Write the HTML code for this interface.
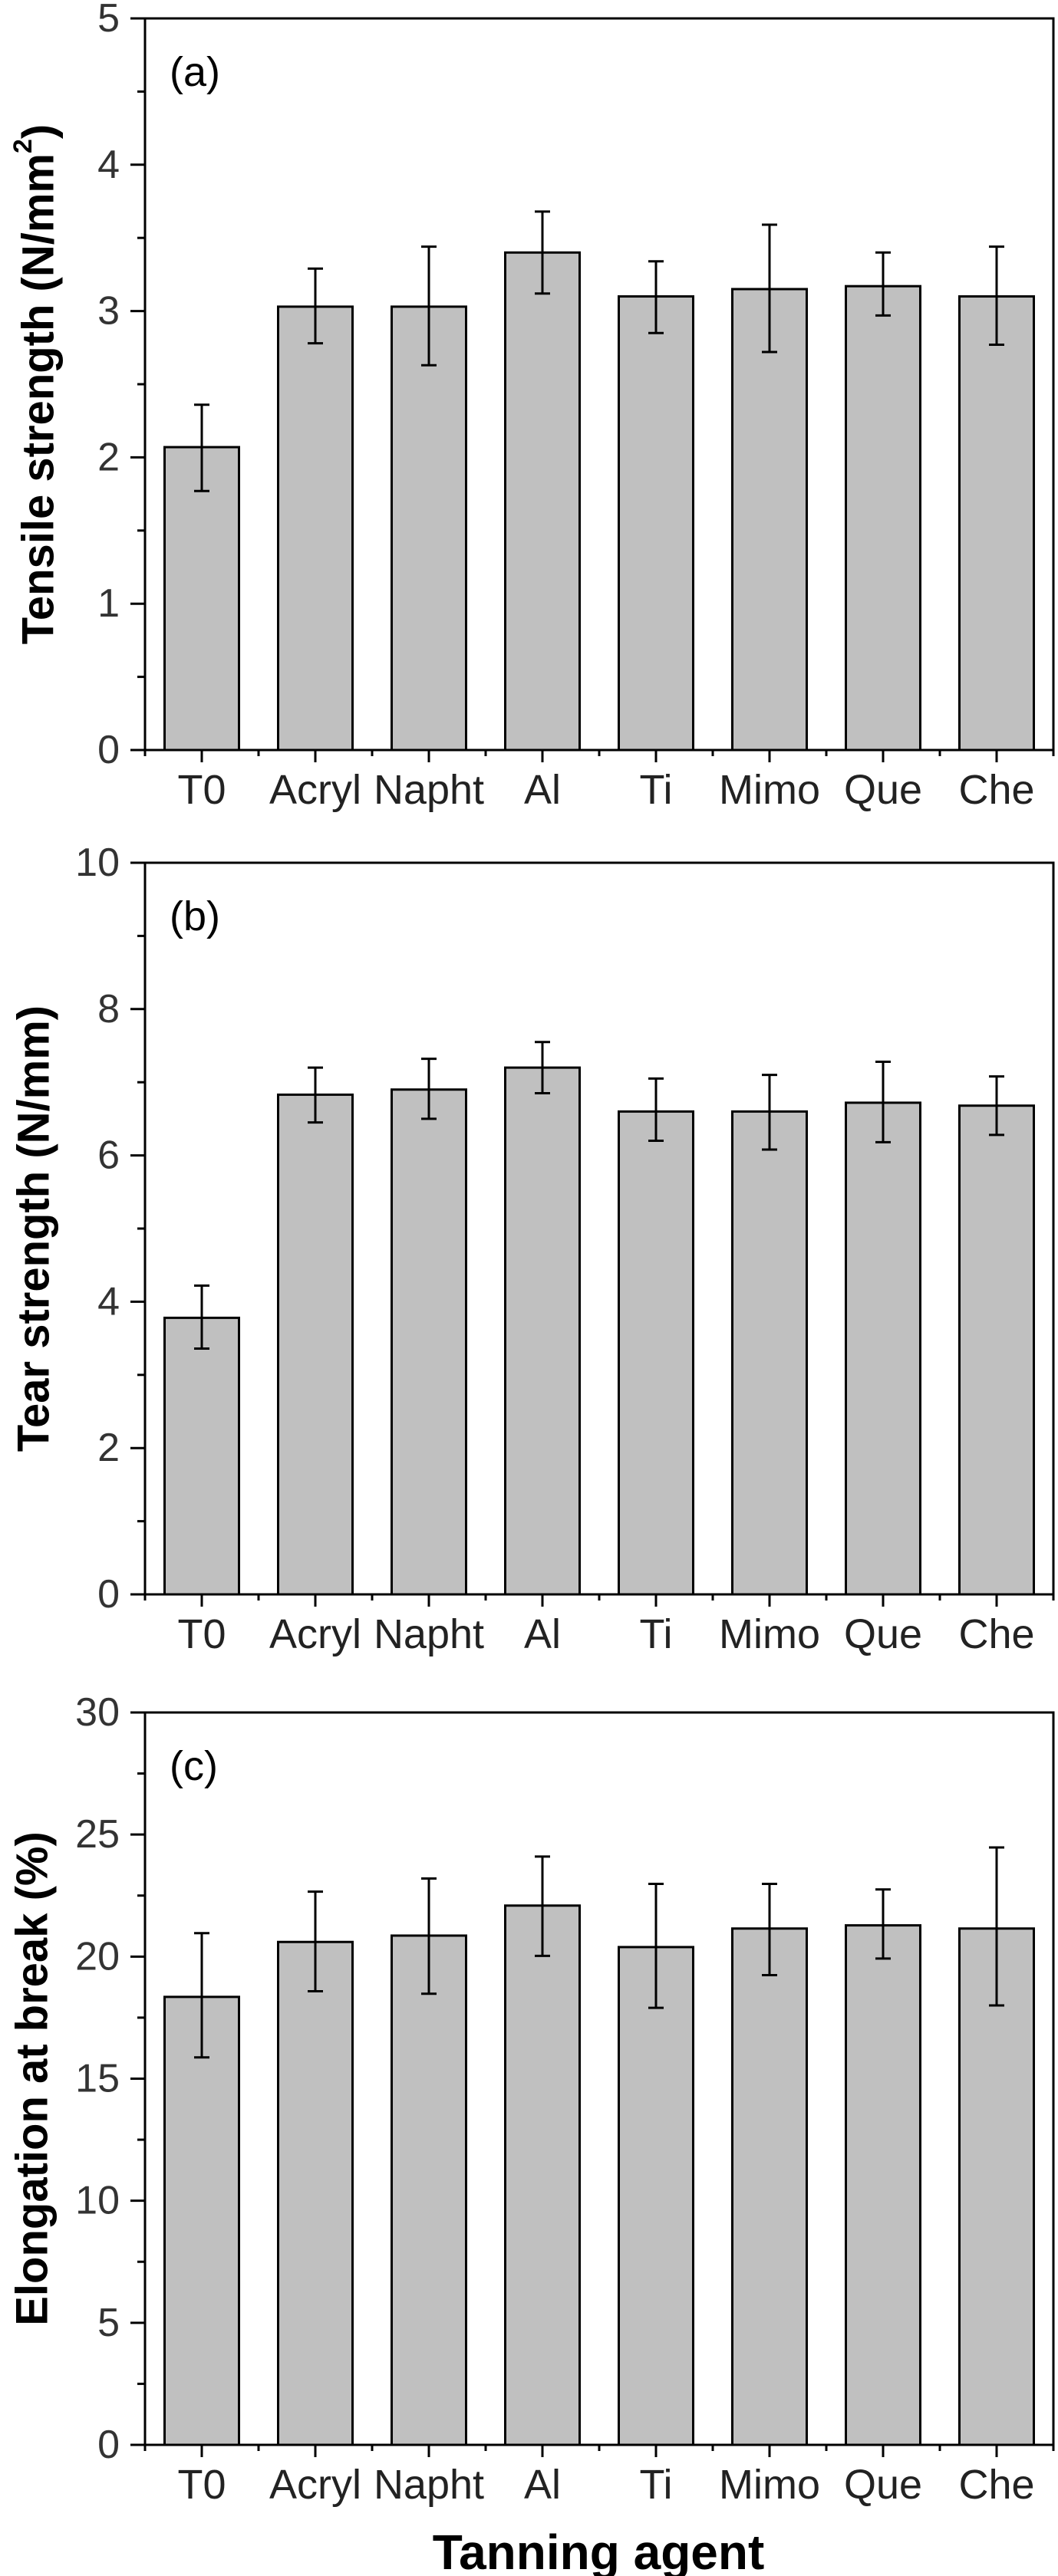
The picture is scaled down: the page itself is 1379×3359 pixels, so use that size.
<!DOCTYPE html>
<html><head><meta charset="utf-8"><style>
html,body{margin:0;padding:0;background:#fff;}
svg{display:block;}
</style></head><body>
<svg id="fig" width="1379" height="3359" viewBox="0 0 1379 3359" xmlns="http://www.w3.org/2000/svg"></svg>
<script>
const categories = ["T0","Acryl","Napht","Al","Ti","Mimo","Que","Che"];
const tensileMean = [2.07,3.03,3.03,3.40,3.10,3.15,3.17,3.10];
const tensileUpper = [2.36,3.29,3.44,3.68,3.34,3.59,3.40,3.44];
const tensileLower = [1.77,2.78,2.63,3.12,2.85,2.72,2.97,2.77];
const tearMean = [3.78,6.83,6.90,7.20,6.60,6.60,6.72,6.68];
const tearUpper = [4.22,7.20,7.32,7.55,7.05,7.10,7.28,7.08];
const tearLower = [3.36,6.45,6.50,6.85,6.20,6.08,6.18,6.28];
const elongMean = [18.35,20.6,20.86,22.09,20.39,21.15,21.28,21.15];
const elongUpper = [20.96,22.66,23.2,24.1,22.98,22.98,22.75,24.47];
const elongLower = [15.87,18.58,18.48,20.03,17.9,19.24,19.92,18.0];
const tensileTicks = [0,1,2,3,4,5];
const tearTicks = [0,2,4,6,8,10];
const elongTicks = [0,5,10,15,20,25,30];

const NS = "http://www.w3.org/2000/svg";
const svg = document.getElementById("fig");
function mk(tag, attrs, parent){
  const e = document.createElementNS(NS, tag);
  for (const k in attrs) e.setAttribute(k, attrs[k]);
  (parent||svg).appendChild(e);
  return e;
}
const X0 = 189, X1 = 1373;
const step = (X1 - X0) / 8;
function xc(i){ return X0 + step*(i+0.5); }

function panel(opts){
  const g = mk("g", {});
  
  
  const top = opts.top, bot = opts.bot, max = opts.max;
  const y = v => bot - (bot - top) * v / max;
  // bars
  opts.mean.forEach((v, i) => {
    const r = mk("rect", {x: xc(i) - 48.5, y: y(v), width: 97, height: bot - y(v), fill: "#c0c0c0", stroke: "#000", "stroke-width": 3}, g);
    
    
  });
  // error bars
  opts.mean.forEach((v, i) => {
    const eg = mk("g", {stroke: "#000", "stroke-width": 3}, g);
    
    
    const yu = y(opts.upper[i]), yl = y(opts.lower[i]);
    mk("line", {x1: xc(i), x2: xc(i), y1: yu, y2: yl}, eg);
    mk("line", {x1: xc(i)-10, x2: xc(i)+10, y1: yu, y2: yu}, eg);
    mk("line", {x1: xc(i)-10, x2: xc(i)+10, y1: yl, y2: yl}, eg);
  });
  // frame
  const fr = mk("rect", {x: X0, y: top, width: X1 - X0, height: bot - top, fill: "none", stroke: "#000", "stroke-width": 3}, g);
  
  
  // y ticks
  const ya = mk("g", {}, g);
  
  
  opts.ticks.forEach((t, k) => {
    mk("line", {x1: X0 - 19, x2: X0, y1: y(t), y2: y(t), stroke: "#000", "stroke-width": 3}, ya);
    const tx = mk("text", {x: opts.labelRight, y: y(t), "text-anchor": "end", "dominant-baseline": "central", "font-family": opts.tickFont, "font-size": 52, fill: "#333"}, ya);
    tx.textContent = t;
    
    
    if (k < opts.ticks.length - 1) {
      const m = (t + opts.ticks[k+1]) / 2;
      mk("line", {x1: X0 - 10, x2: X0, y1: y(m), y2: y(m), stroke: "#000", "stroke-width": 3}, ya);
    }
  });
  // x ticks
  const xa = mk("g", {}, g);
  
  
  for (let i = 0; i <= 8; i++) {
    const xx = X0 + step*i;
    mk("line", {x1: xx, x2: xx, y1: bot, y2: bot + 8, stroke: "#000", "stroke-width": 3}, xa);
  }
  categories.forEach((c, i) => {
    mk("line", {x1: xc(i), x2: xc(i), y1: bot, y2: bot + 16, stroke: "#000", "stroke-width": 3}, xa);
    const tx = mk("text", {x: xc(i), y: bot + 70, "text-anchor": "middle", "font-family": opts.tickFont, "font-size": 54, fill: "#222"}, xa);
    tx.textContent = c;
    
    
  });
  // panel label
  const pl = mk("text", {x: 221, y: top + 88, "font-family": "Liberation Sans, sans-serif", "font-size": 54, fill: "#000"}, g);
  pl.textContent = opts.letter;
  
  
  // y title
  const cy = (top + bot) / 2;
  const yt = mk("text", {x: 0, y: 0, transform: "translate(" + opts.titleX + "," + cy + ") rotate(-90)", "text-anchor": "middle", "dominant-baseline": "central", "font-family": "Liberation Sans, sans-serif", "font-weight": "bold", "font-size": 58, fill: "#000"}, g);
  yt.innerHTML = opts.title;
  
  
}

panel({name: "tensile-strength-chart", top: 24, bot: 978, max: 5, mean: tensileMean, upper: tensileUpper, lower: tensileLower, ticks: tensileTicks, letter: "(a)", title: "Tensile strength (N/mm<tspan font-size='34' dy='-20'>2</tspan><tspan dy='20'>)</tspan>", titleX: 50, labelRight: 156, tickFont: "Liberation Sans, sans-serif"});
panel({name: "tear-strength-chart", top: 1125, bot: 2079, max: 10, mean: tearMean, upper: tearUpper, lower: tearLower, ticks: tearTicks, letter: "(b)", title: "Tear strength (N/mm)", titleX: 44, labelRight: 156, tickFont: "Liberation Sans, sans-serif"});
panel({name: "elongation-chart", top: 2233, bot: 3188, max: 30, mean: elongMean, upper: elongUpper, lower: elongLower, ticks: elongTicks, letter: "(c)", title: "Elongation at break (%)", titleX: 42, labelRight: 156, tickFont: "Liberation Sans Narrow, Liberation Sans, sans-serif"});

const xt = mk("text", {x: 780, y: 3350, "text-anchor": "middle", "font-family": "Liberation Sans, sans-serif", "font-weight": "bold", "font-size": 64, fill: "#000"});
xt.textContent = "Tanning agent";


</script>
</body></html>
